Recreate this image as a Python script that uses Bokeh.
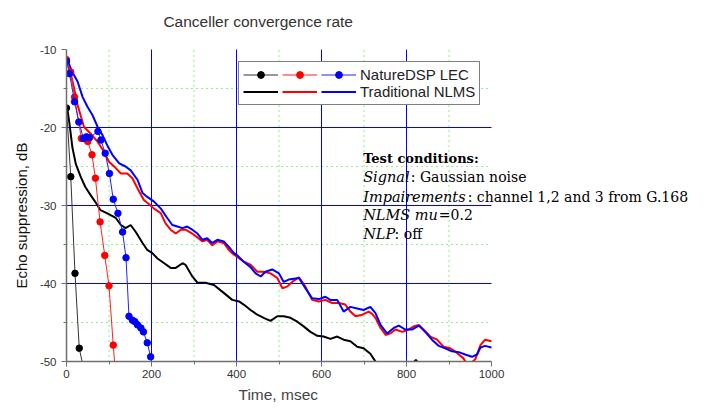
from bokeh.plotting import figure
from bokeh.models import Range1d, FixedTicker, Legend, LegendItem, Label, Title
from bokeh.core.properties import value
from bokeh.embed import file_html
from bokeh.resources import INLINE

# ---------------- data ----------------
x_ticks = [0, 200, 400, 600, 800, 1000]
x_minor = [100, 300, 500, 700, 900]
y_ticks = [-50, -40, -30, -20, -10]
y_minor = [-45, -35, -25, -15]
grid_x = [200, 400, 600, 800]
grid_y = [-40, -30, -20]

# NatureDSP LEC (thin lines with markers)
lec_black_x = [0, 10, 20, 30, 39]
lec_black_y = [-17.5, -26.3, -38.7, -48.3, -50.6]

lec_red_x = [0, 10, 19, 35, 50, 60, 68, 79, 90, 100, 110, 114]
lec_red_y = [-11.3, -12.9, -16.1, -21.4, -21.8, -23.5, -26.5, -32.1, -36.4, -40.3, -47.9, -50.6]

lec_blue_x = [0, 7, 19, 29, 40, 47, 54, 74, 81, 91, 101, 110, 121, 132, 140, 147,
              155, 161, 167, 175, 181, 190, 198, 202]
lec_blue_y = [-11.5, -13.1, -16.7, -19.3, -21.4, -21.2, -21.3, -20.5, -21.6, -23.3, -25.9,
              -29.2, -31.0, -33.4, -36.7, -44.2, -44.7, -44.9, -45.3, -45.7, -46.2, -47.6,
              -49.4, -50.6]

# Traditional NLMS (thick lines)
nlms_black_x = [0, 3, 7, 14, 22, 34, 44, 56, 66, 80,
                96, 116, 128, 139, 151, 163, 179, 190, 202, 214,
                230, 245, 257, 273, 280, 296, 308, 327, 347, 370,
                390, 406, 417, 433, 449, 464, 480, 496, 511, 527,
                543, 558, 574, 590, 605, 621, 637, 652, 668, 684,
                699, 715, 727, 740, 800, 815, 822, 830, 900, 1000]
nlms_black_y = [-17.5, -18.0, -19.5, -22.6, -24.7, -26.4, -27.6, -28.6, -29.4, -30.6,
                -31.0, -31.6, -32.5, -32.9, -32.5, -33.4, -34.8, -35.7, -36.1, -36.8,
                -37.4, -38.0, -38.0, -37.4, -37.6, -39.1, -39.9, -39.9, -40.2, -41.2,
                -42.1, -42.3, -42.7, -43.4, -44.0, -44.4, -44.8, -44.2, -44.2, -44.4,
                -44.9, -45.5, -46.2, -46.7, -46.8, -47.1, -46.8, -47.2, -47.4, -48.1,
                -48.3, -49.0, -50.0, -50.4, -50.5, -50.2, -49.8, -50.3, -51.0, -51.5]

nlms_red_x = [0, 2, 10, 18, 26, 34, 41, 57, 73, 88,
              100, 116, 128, 143, 155, 167, 182, 198, 206, 222,
              233, 245, 257, 269, 280, 296, 320, 331, 343, 355,
              370, 382, 394, 402, 417, 433, 449, 464, 480, 496,
              508, 519, 531, 547, 562, 578, 594, 609, 625, 641,
              656, 668, 680, 696, 711, 719, 727, 739, 751, 762,
              774, 790, 805, 817, 829, 840, 856, 872, 887, 903,
              919, 934, 943, 950, 962, 974, 985, 1000]
nlms_red_y = [-11.2, -11.4, -13.1, -15.0, -17.1, -18.6, -19.9, -20.8, -21.8, -23.1,
              -24.4, -25.2, -25.9, -25.9, -26.5, -27.8, -29.3, -30.0, -30.4, -31.0,
              -32.3, -33.1, -33.6, -33.1, -33.1, -33.6, -34.6, -34.4, -35.1, -34.6,
              -34.8, -35.7, -36.3, -36.6, -37.2, -37.6, -38.5, -38.5, -38.7, -39.3,
              -40.6, -40.4, -39.8, -39.2, -40.4, -42.1, -42.3, -42.1, -42.5, -42.5,
              -42.7, -43.6, -44.2, -44.0, -43.6, -43.9, -44.4, -45.7, -46.6, -46.4,
              -45.9, -46.2, -45.9, -45.5, -45.3, -45.9, -46.8, -47.2, -48.1, -48.3,
              -48.9, -49.6, -50.4, -50.3, -49.7, -47.9, -47.2, -47.4]

nlms_blue_x = [0, 2, 14, 26, 38, 49, 61, 73, 85, 96,
               108, 124, 139, 151, 167, 179, 190, 206, 222, 237,
               249, 261, 273, 284, 296, 308, 320, 331, 343, 355,
               370, 382, 394, 402, 417, 433, 445, 457, 468, 484,
               500, 511, 523, 535, 547, 562, 578, 594, 609, 621,
               637, 652, 668, 684, 699, 715, 727, 739, 754, 770,
               782, 797, 813, 829, 844, 860, 876, 891, 907, 923,
               938, 954, 966, 974, 985, 1000]
nlms_blue_y = [-11.2, -11.4, -12.9, -14.1, -16.1, -17.3, -18.4, -19.9, -21.0, -22.3,
               -23.5, -24.6, -25.0, -25.5, -26.7, -28.4, -28.9, -29.5, -30.4, -31.6,
               -32.5, -32.7, -32.9, -32.7, -33.1, -33.6, -34.4, -34.2, -34.8, -34.4,
               -34.6, -35.3, -36.1, -36.4, -37.2, -37.9, -38.7, -39.1, -38.5, -38.2,
               -38.7, -39.8, -39.5, -39.4, -39.3, -40.6, -41.9, -42.0, -41.7, -42.1,
               -42.1, -43.6, -43.0, -43.2, -43.4, -43.0, -43.8, -45.3, -46.4, -45.7,
               -45.4, -45.9, -45.9, -45.4, -46.2, -47.2, -48.0, -48.3, -48.7, -48.8,
               -49.1, -49.4, -49.1, -48.2, -48.0, -48.2]

legend_labels = ["NatureDSP LEC", "Traditional NLMS"]
title_text = "Canceller convergence rate"
x_label = "Time, msec"
y_label = "Echo suppression, dB"

# test-condition notes: (italic part, rest)
notes_head = "Test conditions:"
notes = [("Signal", ": Gaussian noise"),
         ("Impairements", ": channel 1,2 and 3 from G.168"),
         ("NLMS mu", "=0.2"),
         ("NLP", ": off")]

SANS = "Liberation Sans"
SERIF = "DejaVu Serif"

# The frame is enlarged to the right and upward so that the notes and the
# title (drawn as annotations) are not clipped; axes and grid stay bounded
# to the data box 0..1000 x -50..-10.
PX_X = 425.0 / 1000.0          # pixels per msec
PX_Y = 312.0 / 40.0            # pixels per dB
FRAME_W = 641
FRAME_H = 361
X_END = FRAME_W / PX_X
Y_TOP = -50 + FRAME_H / PX_Y

p = figure(frame_width=FRAME_W, frame_height=FRAME_H,
           min_border_left=66, min_border_right=0,
           min_border_top=0, min_border_bottom=46,
           x_range=Range1d(0, X_END), y_range=Range1d(-50, Y_TOP),
           output_backend="svg", toolbar_location=None)
p.outline_line_color = None
p.background_fill_color = "white"
p.border_fill_color = "white"

# axes
p.xaxis.ticker = FixedTicker(ticks=x_ticks, minor_ticks=x_minor)
p.yaxis.ticker = FixedTicker(ticks=y_ticks, minor_ticks=y_minor)
p.xaxis.bounds = (x_ticks[0], x_ticks[-1])
p.yaxis.bounds = (y_ticks[0], y_ticks[-1])
p.yaxis.major_label_overrides = {v: str(v) for v in y_ticks}
for ax in (p.xaxis[0], p.yaxis[0]):
    ax.axis_line_color = "#707070"
    ax.axis_line_width = 1.5
    ax.major_tick_line_color = "#707070"
    ax.minor_tick_line_color = "#707070"
    ax.major_tick_out = 5
    ax.major_tick_in = 0
    ax.minor_tick_out = 3
    ax.minor_tick_in = 0
    ax.major_label_text_font = SANS
    ax.major_label_text_font_size = "11.5px"
    ax.major_label_text_color = "#333333"
p.yaxis.major_label_standoff = 5
p.xaxis.major_label_standoff = 3

# y-axis title (rotated) placed beside the data box
p.add_layout(Title(text=y_label, align="left", offset=73, standoff=13,
                   text_font=SANS, text_font_size="15px", text_font_style="normal",
                   text_color="#111111"), "left")
# x-axis title placed under the data part of the axis
p.add_layout(Title(text=x_label, align="left", offset=172, standoff=7,
                   text_font=SANS, text_font_size="15.5px", text_font_style="normal",
                   text_color="#444444"), "below")

# grids, bounded to the data box
p.xgrid.visible = False
p.ygrid.visible = False
xa, xb = x_ticks[0], x_ticks[-1]
ya, yb = y_ticks[0], y_ticks[-1]
p.segment(x0=x_minor, x1=x_minor, y0=[ya] * len(x_minor), y1=[yb] * len(x_minor),
          line_color="#22dd22", line_dash="1 4", line_width=1)
p.segment(x0=[xa] * len(y_minor), x1=[xb] * len(y_minor), y0=y_minor, y1=y_minor,
          line_color="#22dd22", line_dash="1 4", line_width=1)
p.segment(x0=grid_x, x1=grid_x, y0=[ya] * len(grid_x), y1=[yb] * len(grid_x),
          line_color="#0000ff", line_width=1)
p.segment(x0=[xa] * len(grid_y), x1=[xb] * len(grid_y), y0=grid_y, y1=grid_y,
          line_color="#0000ff", line_width=1)

# NLMS thick lines
nb = p.line(nlms_black_x, nlms_black_y, line_color="black", line_width=2)
nr = p.line(nlms_red_x, nlms_red_y, line_color="#ff0000", line_width=2)
nbl = p.line(nlms_blue_x, nlms_blue_y, line_color="#0000ff", line_width=2)

# LEC thin lines with markers
lb = p.line(lec_black_x, lec_black_y, line_color="#333333", line_width=1)
lbs = p.scatter(lec_black_x, lec_black_y, size=6.5, fill_color="black", line_color="black")
lr = p.line(lec_red_x, lec_red_y, line_color="#ff2020", line_width=1)
lrs = p.scatter(lec_red_x, lec_red_y, size=6.5, fill_color="#ff0000", line_color="#ff0000")
lbl = p.line(lec_blue_x, lec_blue_y, line_color="#2020ff", line_width=1)
lbls = p.scatter(lec_blue_x, lec_blue_y, size=6.5, fill_color="#0000ff", line_color="#0000ff")

legend = Legend(items=[
    LegendItem(label=value(""), renderers=[lb, lbs]),
    LegendItem(label=value(""), renderers=[lr, lrs]),
    LegendItem(label=value(legend_labels[0]), renderers=[lbl, lbls]),
    LegendItem(label=value(""), renderers=[nb]),
    LegendItem(label=value(""), renderers=[nr]),
    LegendItem(label=value(legend_labels[1]), renderers=[nbl]),
], orientation="horizontal", ncols=3, location=(172, 256),
    glyph_width=35, glyph_height=17, label_height=17, label_width=0,
    label_standoff=4, spacing=0, padding=4, margin=0,
    label_text_font=SANS, label_text_font_size="15px", label_text_color="#222222",
    border_line_color="black", border_line_width=1,
    background_fill_color="white", background_fill_alpha=1.0)
p.add_layout(legend)

# chart title (annotation above the data box)
p.add_layout(Label(x=228, y=-6.45, text=title_text, text_font=SANS,
                   text_font_size="15.5px", text_color="#333333",
                   text_baseline="alphabetic"))

# test conditions text (data-anchored annotations)
note_x = 698
head_y = -23.92
p.add_layout(Label(x=note_x, y=head_y, text=notes_head, text_font=SERIF,
                   text_font_size="13px", text_font_style="bold", text_color="black",
                   text_baseline="alphabetic"))
rest_x = [810, 944, 876, 772]
rows_y = [-26.35, -28.85, -31.28, -33.71]
for (it, rest), rx, ry in zip(notes, rest_x, rows_y):
    p.add_layout(Label(x=note_x, y=ry, text=it, text_font=SERIF, text_font_size="14.5px",
                       text_font_style="italic", text_color="black", text_baseline="alphabetic"))
    p.add_layout(Label(x=rx, y=ry, text=rest, text_font=SERIF, text_font_size="14px",
                       text_font_style="normal", text_color="black", text_baseline="alphabetic"))

open("out.html", "w").write(file_html(p, INLINE))
